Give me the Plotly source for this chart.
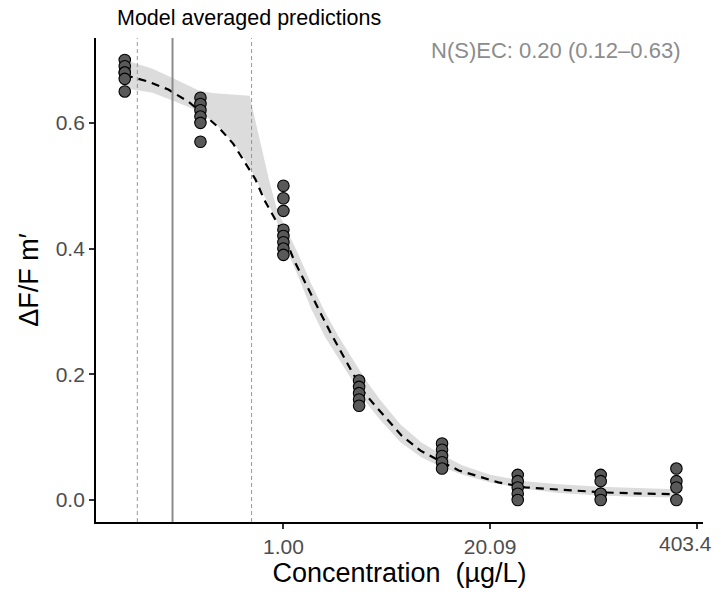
import numpy as np
import plotly.graph_objects as go

# ---- observed data (concentration in ug/L, response dF/Fm') ----
conc_levels = [0.1, 0.3, 1, 3, 10, 30, 100, 300]
responses = [
    [0.70, 0.69, 0.68, 0.68, 0.67, 0.65],
    [0.64, 0.63, 0.62, 0.61, 0.60, 0.57],
    [0.50, 0.48, 0.46, 0.43, 0.42, 0.41, 0.40, 0.39],
    [0.19, 0.18, 0.17, 0.16, 0.15],
    [0.09, 0.08, 0.07, 0.06, 0.05],
    [0.04, 0.03, 0.02, 0.01, 0.00],
    [0.04, 0.03, 0.01, 0.01, 0.00],
    [0.05, 0.03, 0.02, 0.00],
]

# ---- model averaged prediction (x in log concentration) ----
curve_logx = [-2.30, -1.97, -1.67, -1.37, -1.14, -0.925, -0.73, -0.56, -0.41, -0.275,
              -0.13, 0.0, 0.16, 0.28, 0.41, 0.545, 0.69, 0.835, 0.98, 1.17, 1.34,
              1.72, 1.99, 2.255, 2.545, 2.88, 3.12, 3.51, 3.85, 4.28, 4.66, 5.05,
              5.38, 5.70]
curve_y = [0.676, 0.666, 0.653, 0.633, 0.612, 0.591, 0.567, 0.538, 0.511, 0.477,
           0.448, 0.423, 0.380, 0.353, 0.324, 0.296, 0.265, 0.235, 0.207, 0.171, 0.149,
           0.102, 0.0785, 0.063, 0.047, 0.036, 0.028, 0.020, 0.0175, 0.015, 0.012, 0.0106,
           0.0095, 0.0092]

# ---- credible band ----
band_logx = [-2.30, -1.90, -1.60, -1.22, -1.00, -0.70, -0.49, -0.40, -0.30, -0.20,
             -0.10, 0.00, 0.20, 0.40, 0.60, 0.80, 1.00, 1.20, 1.40, 1.70, 2.00,
             2.30, 2.60, 3.00, 3.50, 4.00, 4.60, 5.10, 5.70]
band_upper = [0.700, 0.686, 0.671, 0.651, 0.647, 0.645, 0.643, 0.600, 0.550, 0.505,
              0.465, 0.440, 0.395, 0.345, 0.300, 0.260, 0.225, 0.190, 0.160, 0.120, 0.092,
              0.072, 0.055, 0.040, 0.030, 0.025, 0.021, 0.019, 0.017]
band_lower = [0.655, 0.648, 0.635, 0.618, 0.600, 0.565, 0.530, 0.510, 0.490, 0.468,
              0.445, 0.410, 0.360, 0.305, 0.260, 0.225, 0.190, 0.155, 0.128, 0.092, 0.068,
              0.052, 0.040, 0.028, 0.018, 0.011, 0.007, 0.005, 0.004]

# ---- N(S)EC estimate ----
nsec = 0.20
nsec_lower = 0.12
nsec_upper = 0.63

tick_vals = [0, 3, 6]
tick_text = ["1.00", "20.09", "403.4"]

FONT = "Liberation Sans, Arial, sans-serif"

pts_x, pts_y = [], []
for c, ys in zip(conc_levels, responses):
    for v in ys:
        pts_x.append(np.log(c))
        pts_y.append(v)

fig = go.Figure()
fig.add_trace(go.Scatter(x=band_logx, y=band_upper, mode="lines",
                         line=dict(width=0, color="#d9d9d9"), hoverinfo="skip",
                         showlegend=False))
fig.add_trace(go.Scatter(x=band_logx, y=band_lower, mode="lines",
                         line=dict(width=0, color="#d9d9d9"), fill="tonexty",
                         fillcolor="#dcdcdc", hoverinfo="skip", showlegend=False))
fig.add_trace(go.Scatter(x=curve_logx, y=curve_y, mode="lines",
                         line=dict(color="black", width=2.2, dash="8px,6px"),
                         showlegend=False))
fig.add_trace(go.Scatter(x=pts_x, y=pts_y, mode="markers",
                         marker=dict(size=11.5, color="#595959",
                                     line=dict(color="black", width=1.1)),
                         showlegend=False))

for val, dash, w in [(nsec_lower, "4px,3px", 0.9), (nsec, "solid", 2), (nsec_upper, "4px,3px", 0.9)]:
    fig.add_shape(type="line", xref="x", yref="paper", x0=np.log(val), x1=np.log(val),
                  y0=0, y1=1, line=dict(color="#8c8c8c", width=w, dash=dash), layer="above")

fig.add_annotation(text="N(S)EC: 0.20 (0.12\u20130.63)", xref="paper", yref="paper",
                   x=0.965, y=0.975, xanchor="right", yanchor="middle", showarrow=False,
                   font=dict(family=FONT, size=22, color="#8c8c8c"))
fig.add_annotation(text="Model averaged predictions", xref="paper", yref="paper",
                   x=0.032, y=1.041, xanchor="left", yanchor="middle", showarrow=False,
                   font=dict(family=FONT, size=21.5, color="black"))

# last x tick label, kept inside the page edge
fig.add_annotation(text=tick_text[-1], xref="x", yref="paper", x=tick_vals[-1], y=0,
                   xanchor="center", yanchor="top", xshift=-11, yshift=-8, showarrow=False,
                   font=dict(family=FONT, size=21, color="#4d4d4d"))

axis_common = dict(showgrid=False, zeroline=False, showline=True, linecolor="black",
                   linewidth=1.8, ticks="outside", ticklen=5, tickwidth=1.5, automargin=False,
                   tickcolor="#333333", tickfont=dict(family=FONT, size=21, color="#4d4d4d"))
fig.update_xaxes(range=[-2.72, 6.09], tickvals=tick_vals,
                 ticktext=tick_text[:-1] + [""],
                 title=dict(text="Concentration  (\u00b5g/L)", font=dict(family=FONT, size=27, color="black"),
                            standoff=4),
                 **axis_common)
fig.update_yaxes(range=[-0.035, 0.735], tickvals=[0, 0.2, 0.4, 0.6],
                 ticktext=["0.0", "0.2", "0.4", "0.6"],
                 title=dict(text="\u0394F/F m\u2032", font=dict(family=FONT, size=27, color="black"),
                            standoff=9),
                 **axis_common)
fig.update_layout(width=721, height=592, plot_bgcolor="white", paper_bgcolor="white",
                  margin=dict(l=96, r=18, t=38, b=70), showlegend=False)
fig.write_html("out.html", config={"displayModeBar": False},
               post_script="document.body.style.margin='0';document.body.style.overflow='hidden';")
